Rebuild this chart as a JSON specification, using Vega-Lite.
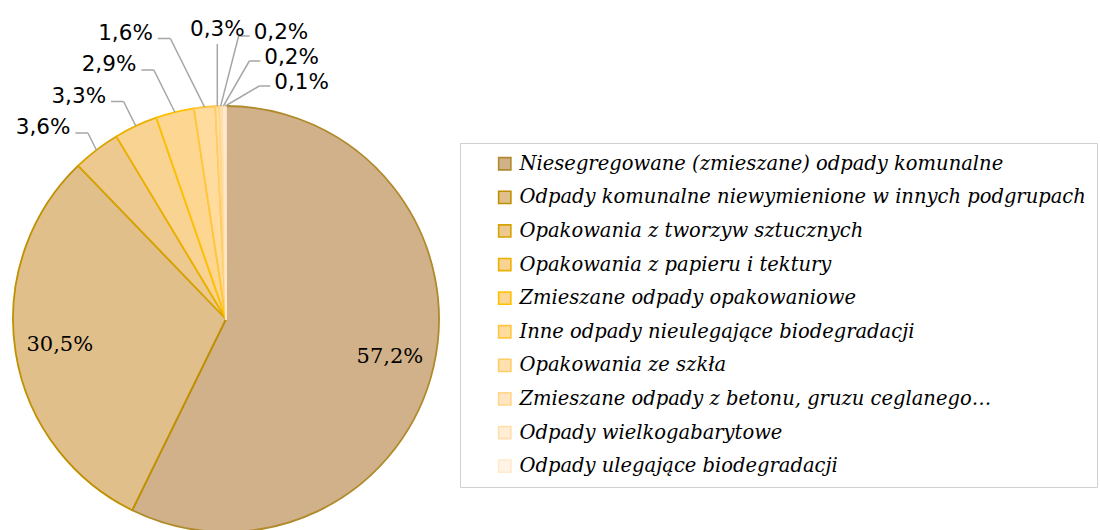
{
  "$schema": "https://vega.github.io/schema/vega-lite/v6.json",
  "width": 1100,
  "height": 530,
  "autosize": {"type": "none"},
  "padding": 0,
  "background": "white",
  "config": {"view": {"stroke": null}},
  "params": [
    {"name": "cx", "value": 226},
    {"name": "cy", "value": 319},
    {"name": "R", "value": 213}
  ],
  "data": {
    "values": [
      {"kategoria": "Niesegregowane (zmieszane) odpady komunalne", "udzial": 57.2},
      {"kategoria": "Odpady komunalne niewymienione w innych podgrupach", "udzial": 30.5},
      {"kategoria": "Opakowania z tworzyw sztucznych", "udzial": 3.6},
      {"kategoria": "Opakowania z papieru i tektury", "udzial": 3.3},
      {"kategoria": "Zmieszane odpady opakowaniowe", "udzial": 2.9},
      {"kategoria": "Inne odpady nieulegające biodegradacji", "udzial": 1.6},
      {"kategoria": "Opakowania ze szkła", "udzial": 0.3},
      {"kategoria": "Zmieszane odpady z betonu, gruzu ceglanego…", "udzial": 0.2},
      {"kategoria": "Odpady wielkogabarytowe", "udzial": 0.2},
      {"kategoria": "Odpady ulegające biodegradacji", "udzial": 0.1}
    ]
  },
  "transform": [
    {"window": [{"op": "sum", "field": "udzial", "as": "cum"}, {"op": "row_number", "as": "idx"}]},
    {"joinaggregate": [{"op": "sum", "field": "udzial", "as": "total"}]},
    {"calculate": "2*PI*(datum.cum - datum.udzial/2)/datum.total", "as": "mid"},
    {"calculate": "datum.mid*180/PI", "as": "deg"},
    {"calculate": "replace(format(datum.udzial, '.1f'), '.', ',') + '%'", "as": "lab"},
    {"calculate": "cx + R*sin(datum.mid)", "as": "ex"},
    {"calculate": "cy - R*cos(datum.mid)", "as": "ey"},
    {"calculate": "datum.udzial >= 10 ? 'in' : (datum.deg < 356 ? 'L' : (datum.deg < 358.2 ? 'T' : 'R'))", "as": "side"},
    {"window": [{"op": "row_number", "as": "sr"}], "groupby": ["side"], "sort": [{"field": "idx"}]},
    {"calculate": "datum.side == 'L' ? cy - R + 27 - 31.5*(datum.sr-1) : (datum.side == 'T' ? 44 : cy - R - 70 + 25*(datum.sr-1))", "as": "ly"},
    {"calculate": "datum.side == 'L' ? datum.ex - 0.5*(datum.ey - datum.ly) : (datum.side == 'T' ? datum.ex : datum.ex + 18 + 8*(datum.sr-1))", "as": "elx"},
    {"calculate": "datum.side == 'L' ? datum.elx - 12.5 : (datum.side == 'T' ? datum.elx : datum.elx + 11)", "as": "lex"},
    {"calculate": "datum.side == 'L' ? datum.lex - 5 : (datum.side == 'T' ? datum.elx : datum.lex + 4)", "as": "tx"},
    {"calculate": "datum.side == 'L' ? datum.ly + 1 : (datum.side == 'T' ? 36 : datum.ly + 3)", "as": "ty"},
    {"calculate": "cx + 0.79*R*sin(datum.mid)", "as": "ix"},
    {"calculate": "cy - 0.79*R*cos(datum.mid)", "as": "iy"}
  ],
  "layer": [
    {
      "mark": {"type": "arc", "x": 226, "y": 319, "outerRadius": 213, "strokeWidth": 1.8, "strokeJoin": "round"},
      "encoding": {
        "theta": {"field": "udzial", "type": "quantitative", "stack": true},
        "order": {"field": "idx", "type": "quantitative"},
        "fill": {
          "field": "kategoria",
          "type": "nominal",
          "scale": {
            "domain": [
              "Niesegregowane (zmieszane) odpady komunalne",
              "Odpady komunalne niewymienione w innych podgrupach",
              "Opakowania z tworzyw sztucznych",
              "Opakowania z papieru i tektury",
              "Zmieszane odpady opakowaniowe",
              "Inne odpady nieulegające biodegradacji",
              "Opakowania ze szkła",
              "Zmieszane odpady z betonu, gruzu ceglanego…",
              "Odpady wielkogabarytowe",
              "Odpady ulegające biodegradacji"
            ],
            "range": ["#D1B189", "#E0BF8B", "#EDC98F", "#F9D391", "#FDD792", "#FFDB9E", "#FFE0AE", "#FFE6C0", "#FFEDD6", "#FFF4E6"]
          },
          "legend": {
            "orient": "none",
            "legendX": 460,
            "legendY": 143,
            "title": null,
            "padding": 11,
            "strokeColor": "#D0D0D0",
            "symbolType": "square",
            "symbolSize": 150,
            "symbolStrokeWidth": 1.6,
            "symbolOffset": 24,
            "symbolOpacity": 1,
            "labelFont": "DejaVu Serif",
            "labelFontStyle": "italic",
            "labelFontSize": 19.5,
            "labelColor": "#000000",
            "labelOffset": 5,
            "labelLimit": 800,
            "rowPadding": 12.6
          }
        },
        "stroke": {
          "field": "kategoria",
          "type": "nominal",
          "scale": {
            "domain": [
              "Niesegregowane (zmieszane) odpady komunalne",
              "Odpady komunalne niewymienione w innych podgrupach",
              "Opakowania z tworzyw sztucznych",
              "Opakowania z papieru i tektury",
              "Zmieszane odpady opakowaniowe",
              "Inne odpady nieulegające biodegradacji",
              "Opakowania ze szkła",
              "Zmieszane odpady z betonu, gruzu ceglanego…",
              "Odpady wielkogabarytowe",
              "Odpady ulegające biodegradacji"
            ],
            "range": ["#B08A2A", "#BF9000", "#D6A300", "#ECB100", "#FFC000", "#FFC640", "#FFCD66", "#FFD68C", "#FFE0AD", "#FFE9CC"]
          }
        }
      }
    },
    {
      "transform": [{"filter": "datum.side != 'in'"}],
      "mark": {"type": "rule", "color": "#A6A6A6", "strokeWidth": 1.5},
      "encoding": {
        "x": {"field": "ex", "type": "quantitative", "scale": {"domain": [0, 1100], "nice": false, "zero": false}, "axis": null},
        "y": {"field": "ey", "type": "quantitative", "scale": {"domain": [0, 530], "nice": false, "zero": false, "reverse": true}, "axis": null},
        "x2": {"field": "elx"},
        "y2": {"field": "ly"}
      }
    },
    {
      "transform": [{"filter": "datum.side == 'L' || datum.side == 'R'"}],
      "mark": {"type": "rule", "color": "#A6A6A6", "strokeWidth": 1.5},
      "encoding": {
        "x": {"field": "elx", "type": "quantitative", "scale": {"domain": [0, 1100], "nice": false, "zero": false}, "axis": null},
        "y": {"field": "ly", "type": "quantitative", "scale": {"domain": [0, 530], "nice": false, "zero": false, "reverse": true}, "axis": null},
        "x2": {"field": "lex"},
        "y2": {"field": "ly"}
      }
    },
    {
      "transform": [{"filter": "datum.side == 'L'"}],
      "mark": {"type": "text", "align": "right", "baseline": "alphabetic", "font": "DejaVu Sans", "fontSize": 21.5, "color": "#000000"},
      "encoding": {
        "x": {"field": "tx", "type": "quantitative", "scale": {"domain": [0, 1100], "nice": false, "zero": false}, "axis": null},
        "y": {"field": "ty", "type": "quantitative", "scale": {"domain": [0, 530], "nice": false, "zero": false, "reverse": true}, "axis": null},
        "text": {"field": "lab"}
      }
    },
    {
      "transform": [{"filter": "datum.side == 'T'"}],
      "mark": {"type": "text", "align": "center", "baseline": "alphabetic", "font": "DejaVu Sans", "fontSize": 21.5, "color": "#000000"},
      "encoding": {
        "x": {"field": "tx", "type": "quantitative", "scale": {"domain": [0, 1100], "nice": false, "zero": false}, "axis": null},
        "y": {"field": "ty", "type": "quantitative", "scale": {"domain": [0, 530], "nice": false, "zero": false, "reverse": true}, "axis": null},
        "text": {"field": "lab"}
      }
    },
    {
      "transform": [{"filter": "datum.side == 'R'"}],
      "mark": {"type": "text", "align": "left", "baseline": "alphabetic", "font": "DejaVu Sans", "fontSize": 21.5, "color": "#000000"},
      "encoding": {
        "x": {"field": "tx", "type": "quantitative", "scale": {"domain": [0, 1100], "nice": false, "zero": false}, "axis": null},
        "y": {"field": "ty", "type": "quantitative", "scale": {"domain": [0, 530], "nice": false, "zero": false, "reverse": true}, "axis": null},
        "text": {"field": "lab"}
      }
    },
    {
      "transform": [{"filter": "datum.side == 'in'"}],
      "mark": {"type": "text", "align": "center", "baseline": "middle", "font": "DejaVu Serif", "fontSize": 21, "color": "#000000"},
      "encoding": {
        "x": {"field": "ix", "type": "quantitative", "scale": {"domain": [0, 1100], "nice": false, "zero": false}, "axis": null},
        "y": {"field": "iy", "type": "quantitative", "scale": {"domain": [0, 530], "nice": false, "zero": false, "reverse": true}, "axis": null},
        "text": {"field": "lab"}
      }
    }
  ]
}
